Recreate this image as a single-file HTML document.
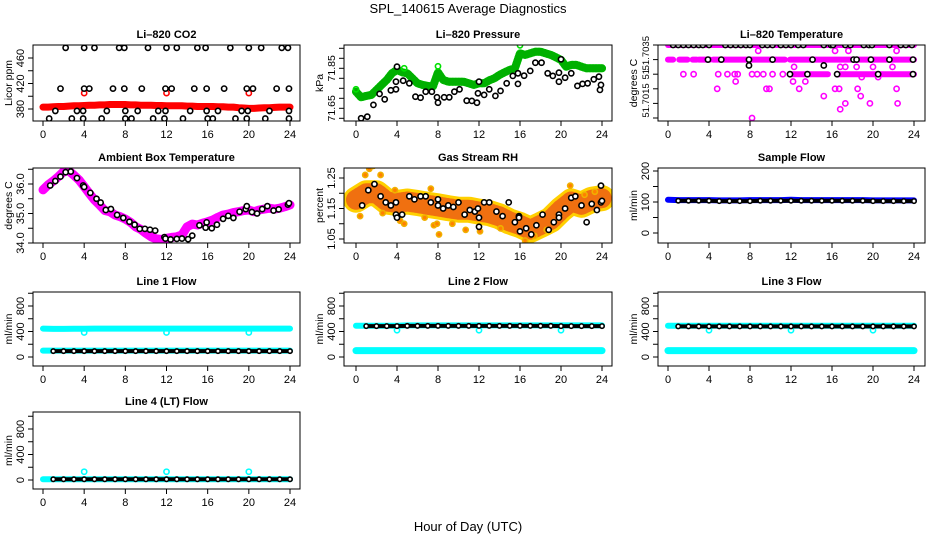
<!DOCTYPE html>
<html><head><meta charset="utf-8">
<style>
html,body{margin:0;padding:0;background:#fff;}
svg{display:block;font-family:"Liberation Sans",Arial,sans-serif;}
</style></head>
<body>
<svg id="chart" width="936" height="540" viewBox="0 0 936 540" xmlns="http://www.w3.org/2000/svg">
<text x="468" y="13" text-anchor="middle" font-size="13">SPL_140615  Average Diagnostics</text>
<text x="468" y="531" text-anchor="middle" font-size="13">Hour of Day (UTC)</text>
</svg>
<script>
// ---------- shared data ----------
const xTicks = [0,4,8,12,16,20,24];
const hHalf = [0,0.5,1,1.5,2,2.5,3,3.5,4,4.5,5,5.5,6,6.5,7,7.5,8,8.5,9,9.5,10,10.5,11,11.5,12,12.5,13,13.5,14,14.5,15,15.5,16,16.5,17,17.5,18,18.5,19,19.5,20,20.5,21,21.5,22,22.5,23,23.5,24];
const hHour = [0,1,2,3,4,5,6,7,8,9,10,11,12,13,14,15,16,17,18,19,20,21,22,23,24];

// CO2
const co2Red = [383,383,383.5,384,384,384.5,385,385,385.5,386,386,386.5,386.5,387,387,387,387,386.5,386.5,386,386,386,385.5,385.5,385,385,385,385,384.5,384.5,384,384,384,384,383.5,383.5,383,383,382,381.5,381,381,381.5,382,382,382.5,383,383,383];
const co2RedPts = [[4,405],[12,405],[20,405]];
const co2Black = [[2.2,476],[4,476],[5,476],[7.4,476],[7.9,476],[10.2,476],[12,476],[13,476],[15,476],[15.8,476],[18.2,476],[20,476],[21.2,476],[23.2,476],[23.8,476],
[1.7,412],[4,412],[4.5,412],[6.8,412],[7.9,412],[9.6,412],[11.9,412],[12.5,412],[14.7,412],[15.9,412],[17.6,412],[19.8,412],[20.4,412],[22.7,412],[23.9,412],
[1.2,377],[3.3,377],[3.9,377],[6.2,377],[8,377],[9.2,377],[11.2,377],[11.9,377],[14.3,377],[15.9,377],[17,377],[19.3,377],[19.9,377],[22,377],[23.9,377],
[0.6,365],[2.8,365],[3.9,365],[5.7,365],[8,365],[8.6,365],[10.7,365],[11.8,365],[13.6,365],[16,365],[16.5,365],[18.7,365],[19.8,365],[21.6,365],[23.9,365]];

// Pressure
const presGreen = [71.733,71.705,71.712,71.717,71.742,71.767,71.792,71.825,71.842,71.83,71.825,71.80,71.775,71.767,71.762,71.758,71.83,71.792,71.783,71.783,71.783,71.783,71.775,71.767,71.775,71.775,71.79,71.80,71.817,71.83,71.842,71.85,71.925,71.917,71.925,71.933,71.933,71.925,71.917,71.905,71.892,71.858,71.867,71.867,71.858,71.85,71.85,71.85,71.85];
const presBlack = [[0.5,71.600],[1.1,71.608],[1.7,71.667],[2.3,71.722],[2.8,71.695],[3.4,71.740],[3.9,71.745],[3.9,71.783],[4,71.858],[4.6,71.788],[5.2,71.775],[5.8,71.708],[6.3,71.703],[6.8,71.733],[7.4,71.733],[7.9,71.705],[8,71.678],[8.6,71.705],[9.1,71.705],[9.6,71.733],[10.1,71.745],[10.8,71.688],[11.3,71.687],[11.8,71.678],[11.9,71.725],[12,71.783],[12.5,71.717],[13,71.745],[13.6,71.712],[14.1,71.737],[14.7,71.775],[15.3,71.812],[15.8,71.825],[15.8,71.772],[16.4,71.813],[17,71.837],[17.5,71.878],[18.1,71.878],[18.7,71.825],[19.2,71.812],[19.8,71.783],[19.8,71.828],[20,71.895],[20.4,71.803],[21,71.825],[21.6,71.762],[22.1,71.772],[22.6,71.775],[23.2,71.795],[23.7,71.808],[23.8,71.742],[23.9,71.767]];

// Li-820 temperature
const tempBands = [[0,24,51.7035],[0,0.5,51.703],[1.1,1.9,51.703],[2.4,2.8,51.703],[3,4.1,51.703],[4.4,11.4,51.703],[11.9,24,51.703],[12,15.6,51.7025],[16.6,24,51.7025]];
const tempMag = [[1.5,51.7025],[2.5,51.7025],[4.9,51.7025],[5.8,51.7025],[6.5,51.7025],[6.8,51.7025],[8.2,51.7025],[8.7,51.7025],[9.3,51.7025],[10.2,51.7025],[11.2,51.7025],
[4.8,51.702],[6.6,51.70225],[9.6,51.702],[9.9,51.702],[12.2,51.70225],[12.8,51.702],[13.4,51.70225],[15.2,51.70175],[16.3,51.702],[16.7,51.702],[16.8,51.7013],[17.3,51.7015],[18.5,51.702],[18.8,51.70175],[19.7,51.7015],[22.4,51.7015],[22.3,51.702],[8.2,51.701],
[8.8,51.7033],[16.3,51.7033],[17.6,51.7033],[22.3,51.7033],[12.3,51.70275],[16.8,51.70275],[17.3,51.70275],[18.4,51.70275],[20,51.70275],[21.9,51.70275],[18.9,51.7024],[20.5,51.7024]];
const tempBlack = [[0.5,51.7035],[1,51.7035],[1.5,51.7035],[2,51.7035],[2.5,51.7035],[3,51.7035],[3.4,51.7035],[4,51.7035],[5.6,51.7035],[6.1,51.7035],[6.6,51.7035],[7.1,51.7035],[7.6,51.7035],[8,51.7035],[9.2,51.7035],[9.7,51.7035],[10.2,51.7035],[11,51.7035],[11.5,51.7035],[12,51.7035],[12.7,51.7035],[13.2,51.7035],[15.2,51.7035],[15.9,51.7035],[16.1,51.7035],[17.3,51.7035],[17.8,51.7035],[19.1,51.7035],[19.6,51.7035],[19.9,51.7035],[21.6,51.7035],[22.7,51.7035],[23.2,51.7035],[23.8,51.7035],
[3.9,51.703],[5.2,51.703],[7.9,51.703],[10.2,51.703],[14.1,51.703],[18.1,51.703],[18.4,51.703],[19.8,51.703],[21.6,51.703],[23.9,51.703],
[7.9,51.7028],[15.2,51.7028],[11.9,51.7025],[13.6,51.7025],[16.5,51.7025],[20.5,51.7025],[23.9,51.7025]];

// Ambient box temperature
const ambMag = [35.80,35.97,36.10,36.25,36.42,36.45,36.30,36.14,35.91,35.68,35.46,35.29,35.10,35.06,34.95,34.89,34.81,34.70,34.55,34.46,34.33,34.21,34.14,34.12,34.16,34.19,34.21,34.27,34.55,34.64,34.61,34.67,34.72,34.78,34.87,34.95,34.98,35.03,35.06,35.10,35.12,35.06,35.12,35.15,35.18,35.15,35.18,35.23,35.29];
const ambBlack = [[0.7,35.95],[1.2,36.1],[1.7,36.25],[2.2,36.4],[2.7,36.42],[3.3,36.2],[3.9,35.95],[4.0,35.9],[4.6,35.7],[5.2,35.5],[5.6,35.37],[6.1,35.12],[6.6,35.15],[7.2,34.95],[7.8,34.85],[8.4,34.72],[8.9,34.62],[9.4,34.48],[9.9,34.48],[10.4,34.45],[10.9,34.42],[11.8,34.2],[11.9,34.15],[12.4,34.12],[13,34.14],[13.5,34.15],[14.1,34.13],[14.5,34.25],[15.2,34.6],[15.8,34.52],[15.9,34.7],[16.4,34.5],[16.9,34.62],[17.5,34.82],[18,34.92],[18.5,34.85],[19.1,35.06],[19.7,35.15],[19.8,35.25],[20.3,35.05],[20.8,35.0],[21.3,35.15],[21.8,35.25],[22.4,35.1],[22.9,35.14],[23.8,35.3],[23.9,35.35]];

// Gas stream RH
const rhCenter = [1.179,1.2,1.2,1.173,1.168,1.173,1.168,1.162,1.157,1.151,1.146,1.146,1.14,1.135,1.124,1.107,1.096,1.08,1.096,1.113,1.146,1.173,1.162,1.179,1.184];
const rhOutliers = [[0.4,1.125],[0.9,1.26],[1.3,1.28],[1.7,1.29],[2.4,1.26],[2.6,1.135],[3.8,1.21],[4.3,1.11],[4.7,1.10],[6.7,1.12],[7.3,1.215],[7.6,1.095],[7.9,1.10],[8.1,1.065],[9.4,1.10],[10.7,1.08],[12.1,1.075],[14.1,1.085],[16.5,1.045],[17.4,1.06],[18.6,1.08],[20.9,1.225],[22.3,1.195],[23.3,1.205]];
const rhBlack = [[0.6,1.16],[1.2,1.21],[1.8,1.23],[2.4,1.19],[2.9,1.17],[3.4,1.16],[3.9,1.17],[3.9,1.13],[4,1.12],[4.5,1.13],[5.2,1.19],[5.7,1.18],[6.3,1.19],[6.8,1.19],[7.3,1.17],[8,1.18],[8,1.16],[8.5,1.15],[9,1.16],[9.5,1.155],[10,1.17],[10.6,1.13],[11.1,1.145],[11.6,1.14],[11.9,1.15],[12,1.12],[12,1.09],[12.5,1.17],[13,1.17],[13.7,1.14],[14.3,1.125],[14.9,1.17],[15.5,1.105],[15.9,1.125],[15.9,1.12],[16,1.075],[16.6,1.085],[17.1,1.065],[17.6,1.095],[18.2,1.13],[18.8,1.08],[19.3,1.105],[19.8,1.13],[19.8,1.12],[20.4,1.15],[21,1.185],[21.4,1.19],[22,1.16],[22.5,1.105],[23,1.165],[23.5,1.145],[23.9,1.225],[23.9,1.17],[24,1.175]];

// Sample flow
const sampBlue = [107,106,106,106,106,105,105,105,106,106,106,106,107,106,106,106,106,106,106,106,105,105,105,105,105];
const sampBlack = [104,104,104,104,104,103,103,103,103,104,104,104,104,104,104,104,104,104,104,104,103,103,103,103,103];

// Line flows
const l1CyanHi = [445,440,440,442,443,445,445,445,445,445,445,445,445,445,445,445,445,445,445,445,445,445,445,445,445];
const l1CyanLo = [100,100,100,100,100,100,100,100,100,100,100,100,100,100,100,100,100,100,100,100,100,100,100,100,100];
const l1Black = [92,92,92,92,92,92,92,92,92,92,92,92,92,92,92,92,92,92,92,92,92,92,92,92,92];
const l1Dips = [[4,385],[12,385],[20,385]];
const l2CyanHi = [490,490,490,490,490,495,495,495,495,495,495,495,495,495,495,495,495,495,495,495,495,495,495,495,495];
const l2CyanLo = [100,100,100,100,100,100,100,100,100,100,100,100,100,100,100,100,100,100,100,100,100,100,100,100,100];
const l2Black = [485,485,485,485,485,488,488,488,488,488,488,488,488,488,488,488,488,488,488,488,485,485,485,485,485];
const l2Dips = [[4,420],[12,420],[20,420]];
const l3CyanHi = [490,490,490,490,490,490,490,490,490,490,490,490,490,490,490,490,490,490,490,490,490,490,490,490,490];
const l3CyanLo = [100,100,100,100,100,100,100,100,100,100,100,100,100,100,100,100,100,100,100,100,100,100,100,100,100];
const l3Black = [480,480,480,480,480,480,480,480,480,480,480,480,480,480,480,480,480,480,480,480,480,480,480,480,480];
const l3Dips = [[4,420],[12,420],[20,420]];
const l4Cyan = [12,12,12,12,12,12,12,12,12,12,12,12,12,12,12,12,12,12,12,12,12,12,12,12,12];
const l4Black = [12,12,12,12,12,12,12,12,12,12,12,12,12,12,12,12,12,12,12,12,12,12,12,12,12];
const l4Spikes = [[4,130],[12,130],[20,130]];

// ---------- drawing ----------
const NS = 'http://www.w3.org/2000/svg';
const svg = document.getElementById('chart');
function mk(tag, attrs, parent){
  const e = document.createElementNS(NS, tag);
  for (const k in attrs) e.setAttribute(k, attrs[k]);
  (parent||svg).appendChild(e);
  return e;
}
function panel(cfg){
  const g = mk('g', {});
  
  
  const xs = h => cfg.x0 + (h/24)*(cfg.x1-cfg.x0);
  const ys = v => cfg.yA + (v-cfg.vA)*(cfg.yB-cfg.yA)/(cfg.vB-cfg.vA);
  const clip = 'clip-' + cfg.name;
  const cp = mk('clipPath', {id: clip}, g);
  mk('rect', {x: cfg.L, y: cfg.T, width: cfg.R-cfg.L, height: cfg.B-cfg.T}, cp);
  const plot = mk('g', {'clip-path': 'url(#'+clip+')'}, g);
  
  
  const box = mk('rect', {x: cfg.L, y: cfg.T, width: cfg.R-cfg.L, height: cfg.B-cfg.T, fill: 'none', stroke: '#000', 'stroke-width': 1}, g);
  
  
  const title = mk('text', {x: (cfg.L+cfg.R)/2, y: cfg.T-7, 'text-anchor': 'middle', 'font-size': 11, 'font-weight': 'bold'}, g);
  title.textContent = cfg.title;
  
  
  xTicks.forEach(t => {
    const x = xs(t);
    const tk = mk('line', {x1: x, x2: x, y1: cfg.B, y2: cfg.B+5, stroke: '#000'}, g);
    
    
    const lb = mk('text', {x: x, y: cfg.B+17, 'text-anchor': 'middle', 'font-size': 11}, g);
    lb.textContent = t;
    
    
  });
  cfg.yTicks.forEach(t => {
    const y = ys(t);
    const tk = mk('line', {x1: cfg.L-5, x2: cfg.L, y1: y, y2: y, stroke: '#000'}, g);
    
    
  });
  const fs = cfg.yFont || 11;
  cfg.yLabels.forEach((t, i) => {
    const y = ys(t);
    const lx = cfg.L - 9;
    const lb = mk('text', {x: lx, y: y, 'text-anchor': 'middle', 'font-size': fs, transform: 'rotate(-90 '+lx+' '+y+')'}, g);
    lb.textContent = cfg.yLabelText ? cfg.yLabelText[i] : t;
    
    
  });
  const ly = (cfg.T+cfg.B)/2, lx2 = cfg.L - 21;
  const yl = mk('text', {x: lx2, y: ly, 'text-anchor': 'middle', 'font-size': 10.5, transform: 'rotate(-90 '+lx2+' '+ly+')'}, g);
  yl.textContent = cfg.ylab;
  
  
  return {xs, ys, plot};
}
function band(P, hs, vs, color, w, name, dash){
  const n = Math.min(hs.length, vs.length);
  const pts = [];
  for (let i=0;i<n;i++) pts.push(P.xs(hs[i]).toFixed(1)+','+P.ys(vs[i]).toFixed(1));
  const a = {points: pts.join(' '), fill: 'none', stroke: color, 'stroke-width': w, 'stroke-linejoin': 'round', 'stroke-linecap': 'round'};
  if (dash) a['stroke-dasharray'] = dash;
  const e = mk('polyline', a, P.plot);
  
  
}
function pts(P, arr, color, name, r, fill){
  arr.forEach(d => {
    const c = mk('circle', {cx: P.xs(d[0]), cy: P.ys(d[1]), r: r||2.6, fill: fill||'none', stroke: color, 'stroke-width': 1.6}, P.plot);
    
    
  });
}
function zipH(vals){ return vals.map((v,i)=>[hHour[i], v]); }

const col1 = {L:33, R:300, x0:43, x1:290};
const col2 = {L:344, R:612, x0:356, x1:602};
const col3 = {L:658, R:925, x0:668, x1:914};
const row1 = {T:45, B:121}, row2 = {T:168, B:243}, row3 = {T:292, B:366}, row4 = {T:412, B:489};

// Panel 1: CO2
let P = panel(Object.assign({name:'co2-panel', title:'Li\u2013820 CO2', ylab:'Licor ppm', vA:380, yA:109, vB:460, yB:58, yTicks:[380,400,420,440,460], yLabels:[380,420,460]}, col1, row1));
band(P, hHalf, co2Red, '#ff0000', 7, 'co2-red-series');
pts(P, co2RedPts, '#ff0000', 'co2-red-point');
pts(P, co2Black, '#000', 'co2-black-point', 2.6, '#fff');

// Panel 2: Pressure
P = panel(Object.assign({name:'pressure-panel', title:'Li\u2013820 Pressure', ylab:'kPa', vA:71.65, yA:108.3, vB:71.85, yB:68.3, yTicks:[71.60,71.65,71.70,71.75,71.80,71.85,71.90,71.95], yLabels:[71.65,71.85], yLabelText:['71.65','71.85'], yFont:10.5}, col2, row1));
band(P, hHalf, presGreen, '#22ff22', 8, 'pressure-green-series');
band(P, hHalf, presGreen, '#00b000', 8, 'pressure-green-texture', '1 2');
pts(P, [[0,71.745],[8,71.86],[16,71.965],[4.7,71.85]], '#00e000', 'pressure-green-point');
pts(P, presBlack, '#000', 'pressure-black-point', 2.6, '#fff');

// Panel 3: Li-820 temperature
P = panel(Object.assign({name:'li820-temp-panel', title:'Li\u2013820 Temperature', ylab:'degrees C', vA:51.7035, yA:45, vB:51.701, yB:118, yTicks:[51.7035,51.703,51.7025,51.702,51.7015,51.701], yLabels:[51.70322,51.7025,51.7016], yLabelText:['51.7035','51','51.7015'], yFont:9.5}, col3, row1));
tempBands.forEach(b => band(P, [b[0], b[1]], [b[2], b[2]], '#ff00ff', 6, 'temp-magenta-band'));
pts(P, tempMag, '#ff00ff', 'temp-magenta-point');
pts(P, tempBlack, '#000', 'temp-black-point', 2.6, '#fff');

// Panel 4: Ambient box temperature
P = panel(Object.assign({name:'ambient-temp-panel', title:'Ambient Box Temperature', ylab:'degrees C', vA:34, yA:243, vB:36, yB:184, yTicks:[34,34.5,35,35.5,36,36.5], yLabels:[34,35,36], yLabelText:['34.0','35.0','36.0']}, col1, row2));
band(P, hHalf, ambMag, '#ff00ff', 9, 'ambient-magenta-series');
pts(P, ambBlack, '#000', 'ambient-black-point', 2.6, '#fff');

// Panel 5: Gas stream RH
P = panel(Object.assign({name:'rh-panel', title:'Gas Stream RH', ylab:'percent', vA:1.05, yA:239, vB:1.25, yB:178, yTicks:[1.05,1.10,1.15,1.20,1.25], yLabels:[1.05,1.15,1.25], yLabelText:['1.05','1.15','1.25']}, col2, row2));
band(P, hHour, rhCenter, '#ffd000', 26, 'rh-yellow-band');
band(P, hHour, rhCenter, '#f07010', 20, 'rh-orange-band', '2 2');
pts(P, rhOutliers, '#f0b000', 'rh-outlier-point', 2.6, '#ff8000');
pts(P, rhBlack, '#000', 'rh-black-point', 2.6, '#fff');

// Panel 6: Sample flow
P = panel(Object.assign({name:'sample-flow-panel', title:'Sample Flow', ylab:'ml/min', vA:0, yA:233, vB:200, yB:171, yTicks:[0,50,100,150,200], yLabels:[0,100,200]}, col3, row2));
band(P, hHour, sampBlue, '#0000ff', 6, 'sample-blue-series');
band(P, hHour.slice(1), sampBlack.slice(1), '#000', 4, 'sample-black-series');
pts(P, zipH(sampBlack).slice(1), '#000', 'sample-black-point', 2.2, '#fff');

const flowTicks = [0,200,400,600,800,1000], flowLabels = [0,400,800];
// Panel 7: Line 1 flow
P = panel(Object.assign({name:'line1-flow-panel', title:'Line 1 Flow', ylab:'ml/min', vA:0, yA:357, vB:800, yB:306, yTicks:flowTicks, yLabels:flowLabels}, col1, row3));
band(P, hHour, l1CyanHi, '#00ffff', 6, 'line1-cyan-high');
band(P, hHour, l1CyanLo, '#00ffff', 6, 'line1-cyan-low');
pts(P, l1Dips, '#00ffff', 'line1-cyan-dip');
band(P, hHour.slice(1), l1Black.slice(1), '#000', 4, 'line1-black-series');
pts(P, zipH(l1Black).slice(1), '#000', 'line1-black-point', 2.2, '#fff');

// Panel 8: Line 2 flow
P = panel(Object.assign({name:'line2-flow-panel', title:'Line 2 Flow', ylab:'ml/min', vA:0, yA:357, vB:800, yB:306, yTicks:flowTicks, yLabels:flowLabels}, col2, row3));
band(P, hHour, l2CyanHi, '#00ffff', 6, 'line2-cyan-high');
band(P, hHour, l2CyanLo, '#00ffff', 7, 'line2-cyan-low');
pts(P, l2Dips, '#00ffff', 'line2-cyan-dip');
band(P, hHour.slice(1), l2Black.slice(1), '#000', 4, 'line2-black-series');
pts(P, zipH(l2Black).slice(1), '#000', 'line2-black-point', 2.2, '#fff');

// Panel 9: Line 3 flow
P = panel(Object.assign({name:'line3-flow-panel', title:'Line 3 Flow', ylab:'ml/min', vA:0, yA:357, vB:800, yB:306, yTicks:flowTicks, yLabels:flowLabels}, col3, row3));
band(P, hHour, l3CyanHi, '#00ffff', 6, 'line3-cyan-high');
band(P, hHour, l3CyanLo, '#00ffff', 7, 'line3-cyan-low');
pts(P, l3Dips, '#00ffff', 'line3-cyan-dip');
band(P, hHour.slice(1), l3Black.slice(1), '#000', 4, 'line3-black-series');
pts(P, zipH(l3Black).slice(1), '#000', 'line3-black-point', 2.2, '#fff');

// Panel 10: Line 4 flow
P = panel(Object.assign({name:'line4-flow-panel', title:'Line 4 (LT) Flow', ylab:'ml/min', vA:0, yA:480, vB:800, yB:429, yTicks:flowTicks, yLabels:flowLabels}, col1, row4));
band(P, hHour, l4Cyan, '#00ffff', 6, 'line4-cyan-series');
pts(P, l4Spikes, '#00ffff', 'line4-cyan-spike');
band(P, hHour.slice(1), l4Black.slice(1), '#000', 4, 'line4-black-series');
pts(P, zipH(l4Black).slice(1), '#000', 'line4-black-point', 2.2, '#fff');
</script>
</body></html>
